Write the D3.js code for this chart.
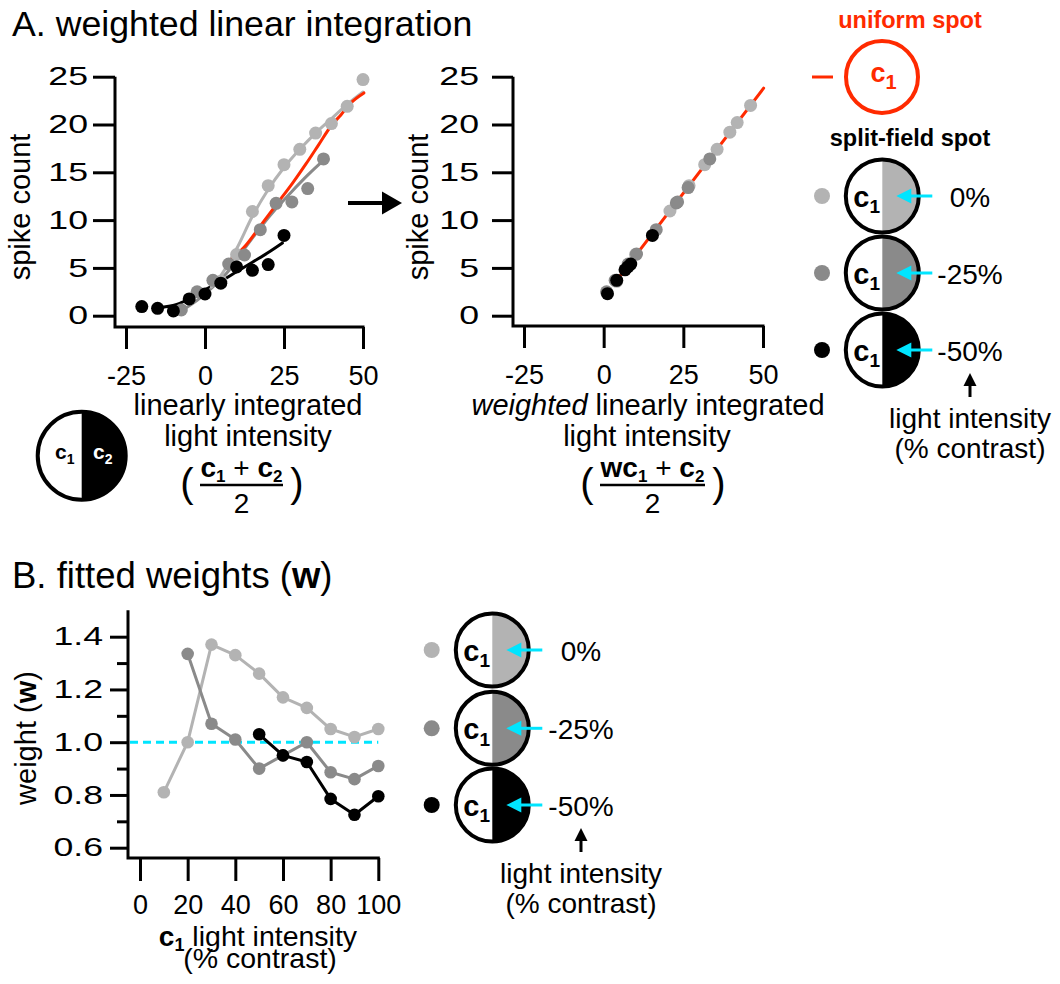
<!DOCTYPE html>
<html>
<head>
<meta charset="utf-8">
<script src="https://cdn.jsdelivr.net/npm/d3@7/dist/d3.min.js"></script>
<style>
body { margin: 0; background: #fff; }
text { font-family: "Liberation Sans", Arial, Helvetica, sans-serif; fill: #000; }
</style>
</head>
<body>
<div id="canvas"></div>
<script>
// ---- data ----
var seriesNames = ['0%', '-25%', '-50%'];
var seriesColors = ['#b3b3b3', '#8a8a8a', '#000000'];
var uniformColor = '#ff2a00';
var cyan = '#00e5ff';

// panel A, left: linearly integrated light intensity vs spike count
var linLight = [[5, 3.6], [10, 6.4], [15, 10.9], [20, 13.6], [25, 15.8], [30, 17.4], [35, 19.1], [40, 20.1], [45, 21.9], [50, 24.7]];
var linMid = [[-7.5, 0.6], [-2.5, 2.5], [2.5, 3.7], [7.5, 5.4], [12.5, 6.35], [17.5, 9.0], [22.5, 11.75], [27.5, 11.9], [32.5, 13.3], [37.5, 16.4]];
var linBlack = [[-20, 0.95], [-15, 0.77], [-10, 0.5], [-5, 1.75], [0, 2.27], [5, 3.4], [10, 5.1], [15, 4.75], [20, 5.35], [25, 8.4]];
var fitLight = [[2, 3.0], [5, 4.2], [10, 7.0], [15, 10.4], [20, 13.2], [25, 15.5], [30, 17.4], [35, 19.1], [40, 20.6], [45, 22.1], [50, 23.4]];
var fitMid = [[-7.5, 0.5], [-2.5, 1.6], [2.5, 3.0], [7.5, 4.7], [12.5, 7.0], [17.5, 9.2], [22.5, 11.2], [27.5, 13.0], [32.5, 14.7], [38, 16.4]];
var fitBlack = [[-13, 0.9], [-8, 1.3], [-4, 2.0], [0, 2.7], [5, 3.6], [10, 4.6], [15, 5.6], [20, 6.6], [24.5, 7.6]];
var fitUniform = [[8, 5.8], [13, 7.4], [18, 9.6], [23, 11.8], [28, 14.0], [32, 15.9], [36, 17.9], [40, 19.9], [43, 21.0], [46, 22.2], [50.3, 23.3]];

// panel A, middle: weighted linearly integrated light intensity vs spike count
var wLight = [[4.1, 3.6], [10.0, 6.4], [20.8, 10.95], [26.8, 13.6], [31.7, 15.8], [35.6, 17.4], [39.6, 19.2], [41.9, 20.2], [46.1, 22.0]];
var wMid = [[0.9, 2.5], [3.6, 3.7], [7.7, 5.4], [10.3, 6.45], [16.5, 9.0], [22.8, 11.8], [23.2, 11.9], [26.5, 13.4], [33.3, 16.4]];
var wBlack = [[1.2, 2.3], [4.1, 3.7], [6.7, 4.8], [7.6, 5.1], [8.5, 5.4], [15.3, 8.4]];
var wFitUniform = [[5, 4.1], [50.2, 23.8]];

var countTicks = [0, 5, 10, 15, 20, 25];
var intensityTicks = [-25, 0, 25, 50];

// panel B: fitted weights vs c1 contrast
var c1Light = [10, 20, 30, 40, 50, 60, 70, 80, 90, 100];
var weightLight = [0.81, 1.0, 1.37, 1.33, 1.26, 1.17, 1.13, 1.05, 1.02, 1.05];
var c1Mid = [20, 30, 40, 50, 60, 70, 80, 90, 100];
var weightMid = [1.335, 1.07, 1.01, 0.90, 0.95, 1.0, 0.886, 0.86, 0.91];
var c1Black = [50, 60, 70, 80, 90, 100];
var weightBlack = [1.03, 0.95, 0.925, 0.785, 0.725, 0.795];
var weightTicks = [0.6, 0.8, 1.0, 1.2, 1.4];
var weightMinorTicks = [0.7, 0.9, 1.1, 1.3];
var contrastTicks = [0, 20, 40, 60, 80, 100];

// ---- drawing ----
var svg = d3.select('#canvas').append('svg')
	.attr('width', 1060)
	.attr('height', 984);

var TICK_FS = 27, LABEL_FS = 29;
var Y_TICK_FS = 25.5, Y_STRETCH = 1.4; // y tick labels are drawn wide in the figure
var plain = function (d) { return String(d); }; // hyphen minus, like the figure

var styleAxis = function (g) {
	g.select('.domain').remove();
	g.selectAll('.tick line').attr('stroke', '#000').attr('stroke-width', 3);
	g.selectAll('.tick text').attr('font-size', TICK_FS);
};

var stretchY = function (size, pad) {
	return function (g) {
		g.selectAll('.tick text')
			.attr('font-size', Y_TICK_FS)
			.attr('x', -(size + pad) / Y_STRETCH)
			.attr('transform', 'scale(' + Y_STRETCH + ',1)');
	};
};

var axisFrame = function (xLeft, yTop, yBottom, xRight) { // L-shaped axis lines
	svg.append('path')
		.attr('d', 'M' + xLeft + ',' + yTop + 'V' + yBottom + 'H' + xRight)
		.attr('fill', 'none')
		.attr('stroke', '#000')
		.attr('stroke-width', 3);
};

var drawLine = function (x, y, data, color, width) {
	var line = d3.line()
		.x(function (d) { return x(d[0]); })
		.y(function (d) { return y(d[1]); })
		.curve(d3.curveMonotoneX);
	svg.append('path')
		.datum(data)
		.attr('d', line)
		.attr('fill', 'none')
		.attr('stroke', color)
		.attr('stroke-width', width)
		.attr('stroke-linejoin', 'round')
		.attr('stroke-linecap', 'round');
};

var drawDots = function (x, y, data, color, r) {
	svg.append('g').selectAll('circle').data(data)
		.enter().append('circle')
		.attr('cx', function (d) { return x(d[0]); })
		.attr('cy', function (d) { return y(d[1]); })
		.attr('r', r)
		.attr('fill', color);
};

// text with a subscript: parts = [[text, size, weight, dy, style]]
var richText = function (x, y, parts, anchor, color) {
	var t = svg.append('text')
		.attr('x', x)
		.attr('y', y)
		.attr('text-anchor', anchor || 'start');
	parts.forEach(function (p) {
		t.append('tspan')
			.attr('font-size', p[1])
			.attr('font-weight', p[2])
			.attr('dy', p[3] || 0)
			.style('font-style', p[4] || 'normal')
			.style('fill', color || '#000')
			.text(p[0]);
	});
	return t;
};

var c1Parts = function (big, small) {
	return [['c', big, 'bold', 0], ['1', small, 'bold', small * 0.33]];
};

var splitSpot = function (cx, cy, r, fill) {
	svg.append('path')
		.attr('transform', 'translate(' + cx + ',' + cy + ')')
		.attr('d', d3.arc()({ innerRadius: 0, outerRadius: r, startAngle: 0, endAngle: Math.PI }))
		.attr('fill', fill);
	svg.append('circle')
		.attr('cx', cx).attr('cy', cy).attr('r', r)
		.attr('fill', 'none')
		.attr('stroke', '#000')
		.attr('stroke-width', 4);
};

var hArrow = function (x1, x2, y, color, width, head, half) { // arrow pointing from x1 to x2
	var dir = x2 > x1 ? 1 : -1;
	svg.append('line')
		.attr('x1', x1).attr('y1', y)
		.attr('x2', x2 - dir * head * 0.8).attr('y2', y)
		.attr('stroke', color).attr('stroke-width', width);
	svg.append('path')
		.attr('d', 'M' + x2 + ',' + y + 'L' + (x2 - dir * head) + ',' + (y - half) + 'L' + (x2 - dir * head) + ',' + (y + half) + 'Z')
		.attr('fill', color);
};

var upArrow = function (x, y1, y2) {
	svg.append('line')
		.attr('x1', x).attr('y1', y1)
		.attr('x2', x).attr('y2', y2 + 10)
		.attr('stroke', '#000').attr('stroke-width', 3);
	svg.append('path')
		.attr('d', 'M' + x + ',' + y2 + 'L' + (x - 6.5) + ',' + (y2 + 13) + 'L' + (x + 6.5) + ',' + (y2 + 13) + 'Z')
		.attr('fill', '#000');
};

// titles
svg.append('text').attr('x', 12).attr('y', 36).attr('font-size', 35.7).text('A. weighted linear integration');
richText(12, 588, [['B. fitted weights (', 36.5, 'normal'], ['w', 36.5, 'bold'], [')', 36.5, 'normal']]);

// ---- panel A left ----
var xA = d3.scaleLinear().domain([-25, 50]).range([126, 363]);
var yA = d3.scaleLinear().domain([0, 25]).range([315.7, 76.7]);

axisFrame(115, yA(25), 327, xA(50) + 1.5);
svg.append('g').attr('transform', 'translate(115,0)')
	.call(d3.axisLeft(yA).tickValues(countTicks).tickFormat(plain).tickSize(22).tickPadding(5).tickSizeOuter(0))
	.call(styleAxis)
	.call(stretchY(22, 5));
svg.append('g').attr('transform', 'translate(0,327)')
	.call(d3.axisBottom(xA).tickValues(intensityTicks).tickFormat(plain).tickSize(22).tickPadding(17).tickSizeOuter(0))
	.call(styleAxis);

drawLine(xA, yA, fitBlack, seriesColors[2], 3);
drawLine(xA, yA, fitMid, seriesColors[1], 3);
drawLine(xA, yA, fitLight, seriesColors[0], 3);
drawLine(xA, yA, fitUniform, uniformColor, 3);
drawDots(xA, yA, linLight, seriesColors[0], 6.5);
drawDots(xA, yA, linMid, seriesColors[1], 6.5);
drawDots(xA, yA, linBlack, seriesColors[2], 6.5);

svg.append('text').attr('transform', 'translate(30,207) rotate(-90)')
	.attr('text-anchor', 'middle').attr('font-size', LABEL_FS).text('spike count');
svg.append('text').attr('x', 248).attr('y', 415).attr('text-anchor', 'middle').attr('font-size', LABEL_FS).text('linearly integrated');
svg.append('text').attr('x', 248).attr('y', 446).attr('text-anchor', 'middle').attr('font-size', LABEL_FS).text('light intensity');

// formula (c1 + c2) / 2
var formula = function (cx, left, right, numer) {
	richText(cx, 477, numer, 'middle');
	svg.append('line').attr('x1', left).attr('x2', right).attr('y1', 485).attr('y2', 485)
		.attr('stroke', '#000').attr('stroke-width', 2.5);
	svg.append('text').attr('x', cx).attr('y', 513).attr('text-anchor', 'middle').attr('font-size', 28).text('2');
	svg.append('text').attr('x', left - 13).attr('y', 497).attr('text-anchor', 'middle').attr('font-size', 40).text('(');
	svg.append('text').attr('x', right + 14).attr('y', 497).attr('text-anchor', 'middle').attr('font-size', 40).text(')');
};
formula(241.5, 200, 283, [['c', 28, 'bold'], ['1', 17, 'bold', 5], [' + ', 28, 'normal', -5], ['c', 28, 'bold'], ['2', 17, 'bold', 5]]);

// c1 | c2 icon
splitSpot(81.7, 455.8, 44, '#000');
richText(55, 459, c1Parts(21, 14));
richText(93, 459, [['c', 21, 'bold', 0], ['2', 14, 'bold', 4.6]], 'start', '#fff');

// arrow between plots
hArrow(348, 402, 203, '#000', 4, 20, 11.5);

// ---- panel A middle ----
var xW = d3.scaleLinear().domain([-25, 50]).range([524, 763]);

axisFrame(513, yA(25), 326, xW(50) + 1.5);
svg.append('g').attr('transform', 'translate(513,0)')
	.call(d3.axisLeft(yA).tickValues(countTicks).tickFormat(plain).tickSize(21).tickPadding(13).tickSizeOuter(0))
	.call(styleAxis)
	.call(stretchY(21, 13));
svg.append('g').attr('transform', 'translate(0,326)')
	.call(d3.axisBottom(xW).tickValues(intensityTicks).tickFormat(plain).tickSize(22).tickPadding(17).tickSizeOuter(0))
	.call(styleAxis);

drawLine(xW, yA, wFitUniform, uniformColor, 3);
drawDots(xW, yA, wLight, seriesColors[0], 6.5);
drawDots(xW, yA, wMid, seriesColors[1], 6.5);
drawDots(xW, yA, wBlack, seriesColors[2], 6.5);

svg.append('text').attr('transform', 'translate(428,207) rotate(-90)')
	.attr('text-anchor', 'middle').attr('font-size', LABEL_FS).text('spike count');
richText(648, 415, [['weighted', LABEL_FS, 'normal', 0, 'italic'], [' linearly integrated', LABEL_FS, 'normal']], 'middle');
svg.append('text').attr('x', 647).attr('y', 446).attr('text-anchor', 'middle').attr('font-size', LABEL_FS).text('light intensity');
formula(652.5, 600, 705, [['wc', 28, 'bold'], ['1', 17, 'bold', 5], [' + ', 28, 'normal', -5], ['c', 28, 'bold'], ['2', 17, 'bold', 5]]);

// ---- panel A legend ----
svg.append('text').attr('x', 910).attr('y', 28).attr('text-anchor', 'middle')
	.attr('font-size', 23.5).attr('font-weight', 'bold').style('fill', uniformColor).text('uniform spot');
svg.append('line').attr('x1', 812).attr('x2', 833).attr('y1', 77).attr('y2', 77)
	.attr('stroke', uniformColor).attr('stroke-width', 3);
svg.append('circle').attr('cx', 882).attr('cy', 77).attr('r', 36)
	.attr('fill', 'none').attr('stroke', uniformColor).attr('stroke-width', 4);
richText(883.5, 82, c1Parts(27, 20), 'middle', uniformColor);
svg.append('text').attr('x', 910).attr('y', 146).attr('text-anchor', 'middle')
	.attr('font-size', 23.5).attr('font-weight', 'bold').text('split-field spot');

var spotLegend = function (dotX, spotX, labelX, ys, arrowY) {
	seriesNames.forEach(function (name, i) {
		var cy = ys[i];
		svg.append('circle').attr('cx', dotX).attr('cy', cy).attr('r', 8).attr('fill', seriesColors[i]);
		splitSpot(spotX, cy, 36.5, seriesColors[i]);
		richText(spotX - 29, cy + 11, c1Parts(29, 19));
		hArrow(spotX + 50, spotX + 14, cy, cyan, 3, 15, 7.5);
		svg.append('text').attr('x', labelX).attr('y', cy + 11).attr('text-anchor', 'middle')
			.attr('font-size', 28).text(name);
	});
	upArrow(labelX, arrowY, arrowY - 24);
	svg.append('text').attr('x', labelX).attr('y', arrowY + 31).attr('text-anchor', 'middle').attr('font-size', 28).text('light intensity');
	svg.append('text').attr('x', labelX).attr('y', arrowY + 61).attr('text-anchor', 'middle').attr('font-size', 28).text('(% contrast)');
};
spotLegend(822, 882.3, 970, [196, 273, 350], 397);

// ---- panel B ----
var xB = d3.scaleLinear().domain([0, 100]).range([140, 378.3]);
var yB = d3.scaleLinear().domain([0.6, 1.4]).range([847.7, 636.7]);

axisFrame(128, yB(1.5), 858, xB(100) + 1.5);
svg.append('g').attr('transform', 'translate(128,0)')
	.call(d3.axisLeft(yB).tickValues(weightTicks).tickFormat(d3.format('.1f')).tickSize(18).tickPadding(7).tickSizeOuter(0))
	.call(styleAxis)
	.call(stretchY(18, 7));
svg.append('g').attr('transform', 'translate(128,0)')
	.call(d3.axisLeft(yB).tickValues(weightMinorTicks).tickFormat('').tickSize(11).tickSizeOuter(0))
	.call(styleAxis);
svg.append('g').attr('transform', 'translate(0,858)')
	.call(d3.axisBottom(xB).tickValues(contrastTicks).tickFormat(plain).tickSize(23).tickPadding(14).tickSizeOuter(0))
	.call(styleAxis);

svg.append('line')
	.attr('x1', 130).attr('x2', xB(100))
	.attr('y1', yB(1.0)).attr('y2', yB(1.0))
	.attr('stroke', cyan).attr('stroke-width', 3).attr('stroke-dasharray', '8,5');

var pairs = function (xs, ys) { return xs.map(function (x, i) { return [x, ys[i]]; }); };
[[c1Light, weightLight], [c1Mid, weightMid], [c1Black, weightBlack]].forEach(function (s, i) {
	var d = pairs(s[0], s[1]);
	var line = d3.line().x(function (p) { return xB(p[0]); }).y(function (p) { return yB(p[1]); });
	svg.append('path').datum(d).attr('d', line).attr('fill', 'none')
		.attr('stroke', seriesColors[i]).attr('stroke-width', 3).attr('stroke-linejoin', 'round');
	drawDots(xB, yB, d, seriesColors[i], 6.3);
});

svg.append('text').attr('transform', 'translate(36,738) rotate(-90)').attr('text-anchor', 'middle')
	.call(function (t) {
		t.append('tspan').attr('font-size', LABEL_FS).text('weight (');
		t.append('tspan').attr('font-size', LABEL_FS).attr('font-weight', 'bold').text('w');
		t.append('tspan').attr('font-size', LABEL_FS).text(')');
	});
richText(258, 946, [['c', 28, 'bold'], ['1', 18, 'bold', 5], [' light intensity', 28.5, 'normal', -5]], 'middle');
svg.append('text').attr('x', 260).attr('y', 968).attr('text-anchor', 'middle').attr('font-size', 28.5).text('(% contrast)');

spotLegend(431.7, 492.3, 581, [650, 728.3, 805], 852);
</script>
</body>
</html>
